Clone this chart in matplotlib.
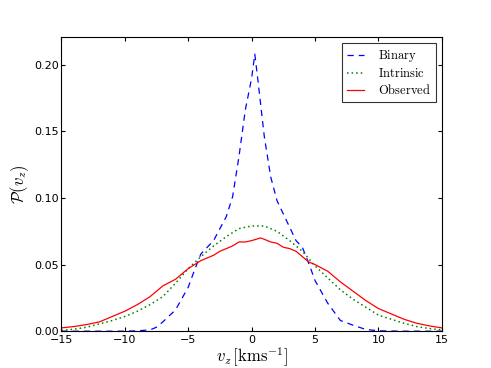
import matplotlib
matplotlib.use('Agg')
import matplotlib.pyplot as plt
import numpy as np

plt.rcParams['mathtext.fontset'] = 'cm'

# binary distribution (blue dashed)
vz_bin = [-15, -12, -10, -9, -8, -7.5, -7, -6, -5, -4.5, -4, -3, -2, -1.5, -1, -0.5,
          0, 0.25, 0.5, 1, 1.5, 2, 3, 3.5, 4, 4.5, 5, 6, 7, 8, 9, 10, 12, 15]
p_bin = [0.0, 0.0, 0.0, 0.0003, 0.001, 0.003, 0.007, 0.016, 0.033, 0.046, 0.058, 0.068,
         0.086, 0.101, 0.131, 0.166, 0.19, 0.208, 0.188, 0.146, 0.116, 0.098, 0.078,
         0.068, 0.063, 0.051, 0.038, 0.021, 0.008, 0.0045, 0.0013, 0.0003, 0.0, 0.0]

# intrinsic distribution (green dotted)
vz_int = [-15, -14, -13, -12, -11, -10, -9, -8, -7, -6, -5, -4, -3, -2, -1, 0,
          1, 2, 3, 4, 5, 6, 7, 8, 9, 10, 11, 12, 13, 14, 15]
p_int = [0.0007, 0.0015, 0.003, 0.0055, 0.008, 0.011, 0.015, 0.020, 0.026, 0.036,
         0.047, 0.056, 0.064, 0.071, 0.077, 0.079, 0.079, 0.075, 0.068, 0.060, 0.049,
         0.040, 0.031, 0.024, 0.018, 0.012, 0.009, 0.006, 0.0035, 0.002, 0.001]

# observed distribution (red solid)
vz_obs = [-15, -14, -13, -12, -11, -10, -9, -8, -7.5, -7, -6, -5, -4, -3.5, -3, -2.5,
          -2, -1.5, -1, -0.5, 0, 0.7, 1, 1.5, 2, 2.5, 3, 3.5, 4, 4.5, 5, 6, 7, 8,
          9, 10, 11, 12, 13, 14, 15]
p_obs = [0.0025, 0.0035, 0.005, 0.007, 0.011, 0.015, 0.020, 0.026, 0.030, 0.034,
         0.039, 0.047, 0.053, 0.055, 0.057, 0.060, 0.062, 0.064, 0.067, 0.067, 0.068,
         0.070, 0.069, 0.067, 0.066, 0.063, 0.062, 0.060, 0.056, 0.052, 0.050, 0.045,
         0.037, 0.030, 0.023, 0.017, 0.013, 0.009, 0.006, 0.004, 0.0025]

fig = plt.figure(figsize=(4.91, 3.68), dpi=100)
ax = fig.add_axes([0.125, 0.1, 0.775, 0.8])

ax.plot(vz_bin, p_bin, color='b', ls='--', dashes=(5, 4), lw=0.9, label=r'$\mathrm{Binary}$')
ax.plot(vz_int, p_int, color='g', ls=':', dashes=(1, 2), lw=1.1, label=r'$\mathrm{Intrinsic}$')
ax.plot(vz_obs, p_obs, color='r', ls='-', lw=0.9, label=r'$\mathrm{Observed}$')

ax.set_xlim(-15, 15)
ax.set_ylim(0, 0.221)
ax.set_xticks([-15, -10, -5, 0, 5, 10, 15])
ax.set_yticks([0.0, 0.05, 0.10, 0.15, 0.20])
ax.set_yticklabels(['0.00', '0.05', '0.10', '0.15', '0.20'])
ax.tick_params(direction='in', top=True, right=True, labelsize=8, length=3)
ax.tick_params(axis='x', pad=3)
ax.tick_params(axis='y', pad=2)
for s in ax.spines.values():
    s.set_linewidth(0.8)

ax.set_xlabel(r'$v_z\,[\mathrm{kms}^{-1}]$', fontsize=12, labelpad=0)
ax.set_ylabel(r'$\mathcal{P}(v_z)$', fontsize=12, labelpad=2)

leg = ax.legend(loc='upper right', fontsize=9, fancybox=False, handlelength=1.4,
                handletextpad=1.1, labelspacing=0.25, borderpad=0.4,
                borderaxespad=0.5)
leg.get_frame().set_edgecolor('black')
leg.get_frame().set_linewidth(0.8)

fig.savefig('out.png', dpi=100)
